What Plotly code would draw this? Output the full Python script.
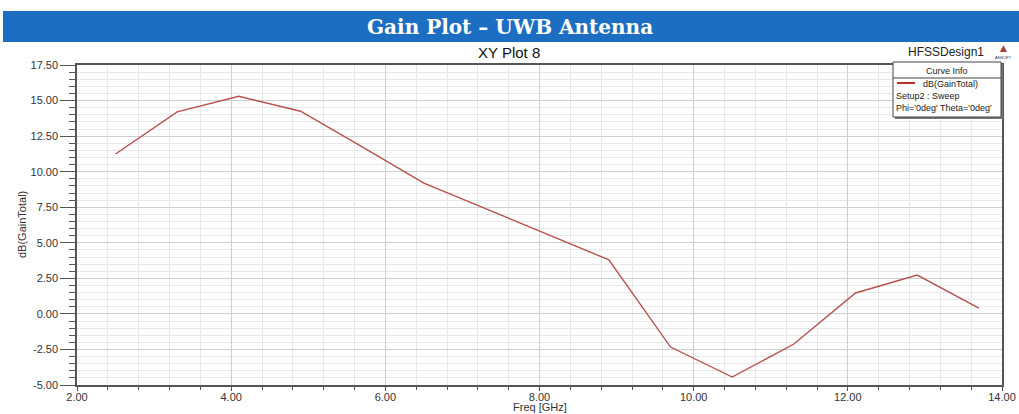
import plotly.graph_objects as go

# Data
freq_ghz = [2.5, 3.3, 4.1, 4.9, 5.7, 6.5, 7.3, 8.1, 8.9, 9.7, 10.5, 11.3, 12.1, 12.9, 13.7]
gain_db = [11.24, 14.2, 15.3, 14.25, 11.75, 9.2, 7.4, 5.6, 3.8, -2.33, -4.44, -2.12, 1.47, 2.73, 0.4]

x_ticks = [2, 4, 6, 8, 10, 12, 14]
y_ticks = [17.5, 15, 12.5, 10, 7.5, 5, 2.5, 0, -2.5, -5]

W, H = 1019, 414
L, R, T, B = 77, 1002, 65, 385


def px(x):
    return (x - L) / (R - L)


def py(y):
    return (B - y) / (B - T)


fig = go.Figure()
fig.add_trace(go.Scatter(x=freq_ghz, y=gain_db, mode="lines",
                         line=dict(color="#b5524f", width=1.4),
                         showlegend=False, hoverinfo="skip"))

axis_font = dict(family="Liberation Sans, Arial, sans-serif", size=11, color="#333333")

fig.update_xaxes(range=[2, 14], tickvals=x_ticks, ticktext=[f"{v:.2f}" for v in x_ticks],
                 automargin=False, ticklabelstandoff=-3,
                 showline=True, linecolor="#555555", linewidth=1.5, mirror=True,
                 ticks="outside", ticklen=4, tickcolor="#555555",
                 showgrid=True, gridcolor="#cfcfcf", gridwidth=1, zeroline=False,
                 minor=dict(dtick=0.4, showgrid=True, gridcolor="#e8e8e8", ticks="outside",
                            ticklen=3, tickcolor="#555555"),
                 tickfont=axis_font)
fig.update_yaxes(range=[-5, 17.5], tickvals=y_ticks, ticktext=[f"{v:.2f}" for v in y_ticks],
                 automargin=False,
                 showline=True, linecolor="#555555", linewidth=1.5, mirror=True,
                 ticks="outside", ticklen=15, tickcolor="#555555",
                 showgrid=True, gridcolor="#cfcfcf", gridwidth=1, zeroline=False,
                 minor=dict(dtick=0.5, showgrid=True, gridcolor="#e8e8e8", ticks="outside",
                            ticklen=6, tickcolor="#555555"),
                 tickfont=axis_font)

shapes = []
annotations = []

# Banner
shapes.append(dict(type="rect", xref="paper", yref="paper",
                   x0=px(3), x1=px(1019), y0=py(42), y1=py(11),
                   fillcolor="#1b6ec2", line=dict(width=0), layer="above"))
annotations.append(dict(xref="paper", yref="paper", x=px(510), y=py(27),
                        text="<b>Gain Plot – UWB Antenna</b>", showarrow=False,
                        font=dict(family="DejaVu Serif, serif", size=20, color="white"),
                        xanchor="center", yanchor="middle"))
annotations.append(dict(xref="paper", yref="paper", x=px(509), y=py(53),
                        text="XY Plot 8", showarrow=False,
                        font=dict(family="Liberation Sans, Arial, sans-serif", size=15, color="#111111"),
                        xanchor="center", yanchor="middle"))
annotations.append(dict(xref="paper", yref="paper", x=px(986), y=py(52),
                        text="HFSSDesign1", showarrow=False,
                        font=dict(family="Liberation Sans, Arial, sans-serif", size=12, color="#222222"),
                        xanchor="right", yanchor="middle"))
annotations.append(dict(xref="paper", yref="paper", x=px(1003), y=py(48),
                        text="▲", showarrow=False,
                        font=dict(family="DejaVu Sans, sans-serif", size=9, color="#a83a3a"),
                        xanchor="center", yanchor="middle"))
annotations.append(dict(xref="paper", yref="paper", x=px(1003), y=py(57),
                        text="ANSOFT", showarrow=False,
                        font=dict(family="Liberation Sans, Arial, sans-serif", size=4, color="#333333"),
                        xanchor="center", yanchor="middle"))

# Axis titles
annotations.append(dict(xref="paper", yref="paper", x=px(540), y=py(407),
                        text="Freq [GHz]", showarrow=False,
                        font=dict(family="Liberation Sans, Arial, sans-serif", size=11, color="#333333"),
                        xanchor="center", yanchor="middle"))
annotations.append(dict(xref="paper", yref="paper", x=px(22), y=py(225),
                        text="dB(GainTotal)", showarrow=False, textangle=-90,
                        font=dict(family="Liberation Sans, Arial, sans-serif", size=11, color="#333333"),
                        xanchor="center", yanchor="middle"))

# Legend box (Curve Info)
shapes.append(dict(type="rect", xref="paper", yref="paper",
                   x0=px(895), x1=px(1003), y0=py(119), y1=py(64),
                   fillcolor="#777777", line=dict(width=0), layer="above"))
shapes.append(dict(type="rect", xref="paper", yref="paper",
                   x0=px(893), x1=px(1001), y0=py(117), y1=py(62),
                   fillcolor="white", line=dict(color="#444444", width=1), layer="above"))
shapes.append(dict(type="line", xref="paper", yref="paper",
                   x0=px(893), x1=px(1001), y0=py(78), y1=py(78),
                   line=dict(color="#444444", width=1), layer="above"))
shapes.append(dict(type="line", xref="paper", yref="paper",
                   x0=px(897), x1=px(915), y0=py(83), y1=py(83),
                   line=dict(color="#c0302a", width=2), layer="above"))
leg_font = dict(family="Liberation Sans, Arial, sans-serif", size=9, color="#222222")
annotations.append(dict(xref="paper", yref="paper", x=px(947), y=py(71),
                        text="Curve Info", showarrow=False, font=leg_font,
                        xanchor="center", yanchor="middle"))
annotations.append(dict(xref="paper", yref="paper", x=px(921), y=py(84),
                        text="dB(GainTotal)", showarrow=False, font=leg_font,
                        xanchor="left", yanchor="middle"))
annotations.append(dict(xref="paper", yref="paper", x=px(894), y=py(96),
                        text="Setup2 : Sweep", showarrow=False, font=leg_font,
                        xanchor="left", yanchor="middle"))
annotations.append(dict(xref="paper", yref="paper", x=px(894), y=py(108),
                        text="Phi='0deg' Theta='0deg'", showarrow=False, font=leg_font,
                        xanchor="left", yanchor="middle"))

fig.update_layout(width=W, height=H, margin=dict(l=L, r=W - R, t=T, b=H - B),
                  paper_bgcolor="white", plot_bgcolor="white",
                  shapes=shapes, annotations=annotations, showlegend=False)

fig.write_html("out.html")
